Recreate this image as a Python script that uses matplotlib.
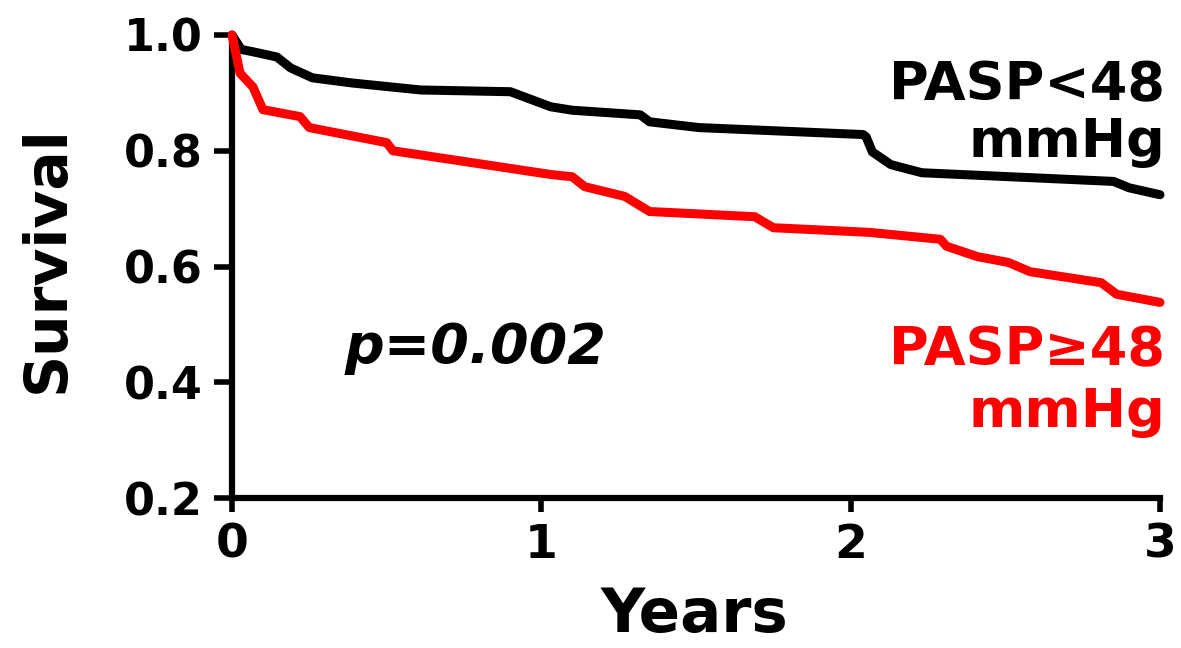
import numpy as np
import matplotlib
matplotlib.use("Agg")
import matplotlib.pyplot as plt

# Survival curves (years, survival)
low_t = [0.0, 0.03, 0.068, 0.145, 0.19, 0.26, 0.39, 0.61, 0.90, 1.03, 1.10,
         1.32, 1.35, 1.51, 2.04, 2.05, 2.07, 2.13, 2.23, 2.85, 2.90, 3.0]
low_s = [1.0, 0.975, 0.971, 0.962, 0.943, 0.926, 0.917, 0.905, 0.902, 0.876, 0.870,
         0.862, 0.850, 0.840, 0.828, 0.824, 0.798, 0.776, 0.762, 0.747, 0.736, 0.724]

high_t = [0.0, 0.026, 0.068, 0.10, 0.22, 0.25, 0.50, 0.52, 1.03, 1.10, 1.14,
          1.27, 1.35, 1.69, 1.75, 2.06, 2.29, 2.31, 2.41, 2.51, 2.58, 2.81, 2.86, 3.0]
high_s = [1.0, 0.934, 0.91, 0.871, 0.859, 0.84, 0.814, 0.80, 0.759, 0.755, 0.738,
          0.721, 0.695, 0.686, 0.667, 0.659, 0.647, 0.635, 0.617, 0.607, 0.591, 0.572, 0.552, 0.538]

xticks = [0, 1, 2, 3]
yticks = [0.2, 0.4, 0.6, 0.8, 1.0]

plt.rcParams['font.family'] = ['DejaVu Sans']
plt.rcParams['font.weight'] = 'bold'

fig = plt.figure(figsize=(11.81, 6.48), dpi=100)
ax = fig.add_axes([232/1181, 1-498/648, (1160-232)/1181, (498-35)/648])

ax.plot(low_t, low_s, color='black', lw=6.5, solid_joinstyle='round', solid_capstyle='round', clip_on=False)
ax.plot(high_t, high_s, color='#ff0000', lw=6.5, solid_joinstyle='round', solid_capstyle='round', clip_on=False, zorder=3)

ax.set_xlim(0, 3)
ax.set_ylim(0.2, 1.0)
ax.set_xticks(xticks)
ax.set_yticks(yticks)
ax.set_xticklabels([str(v) for v in xticks], fontsize=34, fontweight='bold')
ax.set_yticklabels([f"{v:.1f}" for v in yticks], fontsize=32, fontweight='bold')
ax.tick_params(axis='x', width=4, length=10, pad=8)
ax.tick_params(axis='y', width=4, length=13, pad=8)
for side in ['top', 'right']:
    ax.spines[side].set_visible(False)
for side in ['left', 'bottom']:
    ax.spines[side].set_linewidth(4.5)

ax.set_xlabel("Years", fontsize=44, fontweight='bold')
ax.set_ylabel("Survival", fontsize=42, fontweight='bold')
ax.xaxis.label.set_verticalalignment('baseline')
ax.xaxis.set_label_coords(0.498, -0.289)
ax.yaxis.set_label_coords(-0.168, 0.516)

ax.text(3.016, 0.888, "PASP<48", ha='right', va='baseline', fontsize=39,
        fontweight='bold', color='black')
ax.text(3.016, 0.789, "mmHg", ha='right', va='baseline', fontsize=39,
        fontweight='bold', color='black')
ax.text(3.016, 0.430, "PASP\u226548", ha='right', va='baseline', fontsize=39,
        fontweight='bold', color='#ff0000')
ax.text(3.016, 0.323, "mmHg", ha='right', va='baseline', fontsize=39,
        fontweight='bold', color='#ff0000')
ax.text(0.365, 0.433, "p=0.002", ha='left', va='baseline', fontsize=40,
        fontweight='bold', style='italic', color='black')

fig.savefig("out.png", dpi=100)
